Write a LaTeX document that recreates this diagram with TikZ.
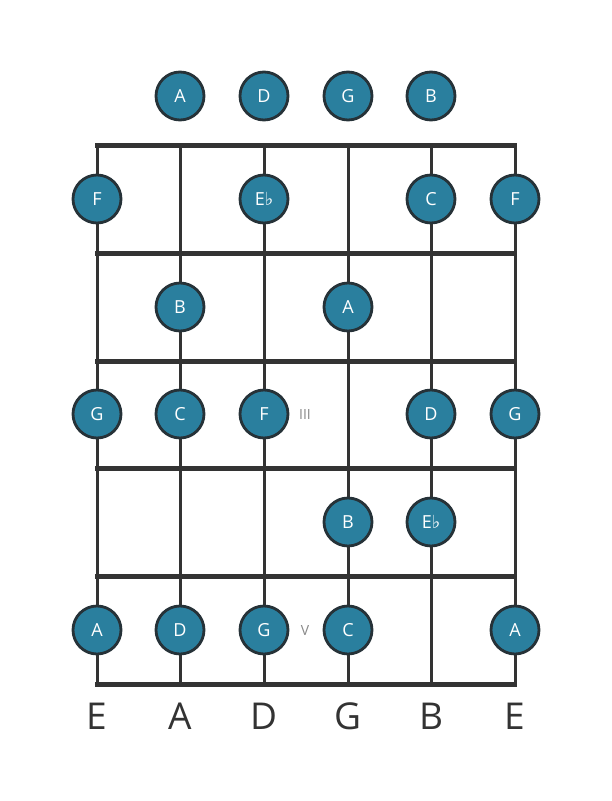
\documentclass[tikz,border=0pt]{standalone}
\usepackage{fontspec}
\setmainfont{Open Sans}
\newfontfamily\flatfont{DejaVu Sans}
\definecolor{dotblue}{RGB}{42,127,158}
\definecolor{dotrim}{RGB}{38,50,56}
\definecolor{wire}{RGB}{51,51,51}
\definecolor{numgray}{RGB}{136,136,136}
\newcommand{\fl}{{\flatfont\char"266D}}
\tikzset{
  notedot/.style={circle, draw=dotrim, line width=2.8pt, fill=dotblue,
    minimum size=48pt, inner sep=0pt, text=white, font=\fontsize{18}{18}\selectfont},
  fretline/.style={wire, line width=5pt},
  stringline/.style={wire, line width=3pt},
  stringname/.style={text=wire, font=\fontsize{37}{37}\selectfont},
  posmark/.style={text=numgray, font=\fontsize{14}{14}\selectfont}
}
\begin{document}
\begin{tikzpicture}[x=1pt, y=-1pt]
            \useasboundingbox (0,0) rectangle (611,801);
            % Define string ends
            \coordinate (e1) at (97,145);  \coordinate (E1) at (97,684);
            \coordinate (e2) at (180,145); \coordinate (E2) at (180,684);
            \coordinate (e3) at (264,145); \coordinate (E3) at (264,684);
            \coordinate (e4) at (348,145); \coordinate (E4) at (348,684);
            \coordinate (e5) at (431,145); \coordinate (E5) at (431,684);
            \coordinate (e6) at (515,145); \coordinate (E6) at (515,684);
            
            % Draw strings
            \draw[stringline] (e1) -- (E1);
            \draw[stringline] (e2) -- (E2);
            \draw[stringline] (e3) -- (E3);
            \draw[stringline] (e4) -- (E4);
            \draw[stringline] (e5) -- (E5);
            \draw[stringline] (e6) -- (E6);
            
            % Draw frets
            \foreach \y in {145,253,361,468,576,684}
              \draw[fretline] (95,\y) -- (517,\y);
            
            % Open strings
            \node[notedot] (o2) at (180,96) {A};
            \node[notedot] (o3) at (264,96) {D};
            \node[notedot] (o4) at (348,96) {G};
            \node[notedot] (o5) at (431,96) {B};
            
            % First fret
            \node[notedot] (a1) at (97,199) {F};
            \node[notedot] (a3) at (264,199) {E\fl};
            \node[notedot] (a5) at (431,199) {C};
            \node[notedot] (a6) at (515,199) {F};
            
            % Second fret
            \node[notedot] (b2) at (180,307) {B};
            \node[notedot] (b4) at (348,307) {A};
            
            % Third fret
            \node[notedot] (c1) at (97,414) {G};
            \node[notedot] (c2) at (180,414) {C};
            \node[notedot] (c3) at (264,414) {F};
            \node[notedot] (c5) at (431,414) {D};
            \node[notedot] (c6) at (515,414) {G};
            \node[posmark] (mIII) at (305,414) {III};
            
            % Fourth fret
            \node[notedot] (d4) at (348,522) {B};
            \node[notedot] (d5) at (431,522) {E\fl};
            
            % Fifth fret
            \node[notedot] (f1) at (97,630) {A};
            \node[notedot] (f2) at (180,630) {D};
            \node[notedot] (f3) at (264,630) {G};
            \node[notedot] (f4) at (348,630) {C};
            \node[notedot] (f6) at (515,630) {A};
            \node[posmark] (mV) at (305,630) {V};
            
            % String names
            \node[stringname] (n1) at (97,716) {E};
            \node[stringname] (n2) at (180,716) {A};
            \node[stringname] (n3) at (264,716) {D};
            \node[stringname] (n4) at (348,716) {G};
            \node[stringname] (n5) at (431,716) {B};
            \node[stringname] (n6) at (515,716) {E};
        \end{tikzpicture}
\end{document}
